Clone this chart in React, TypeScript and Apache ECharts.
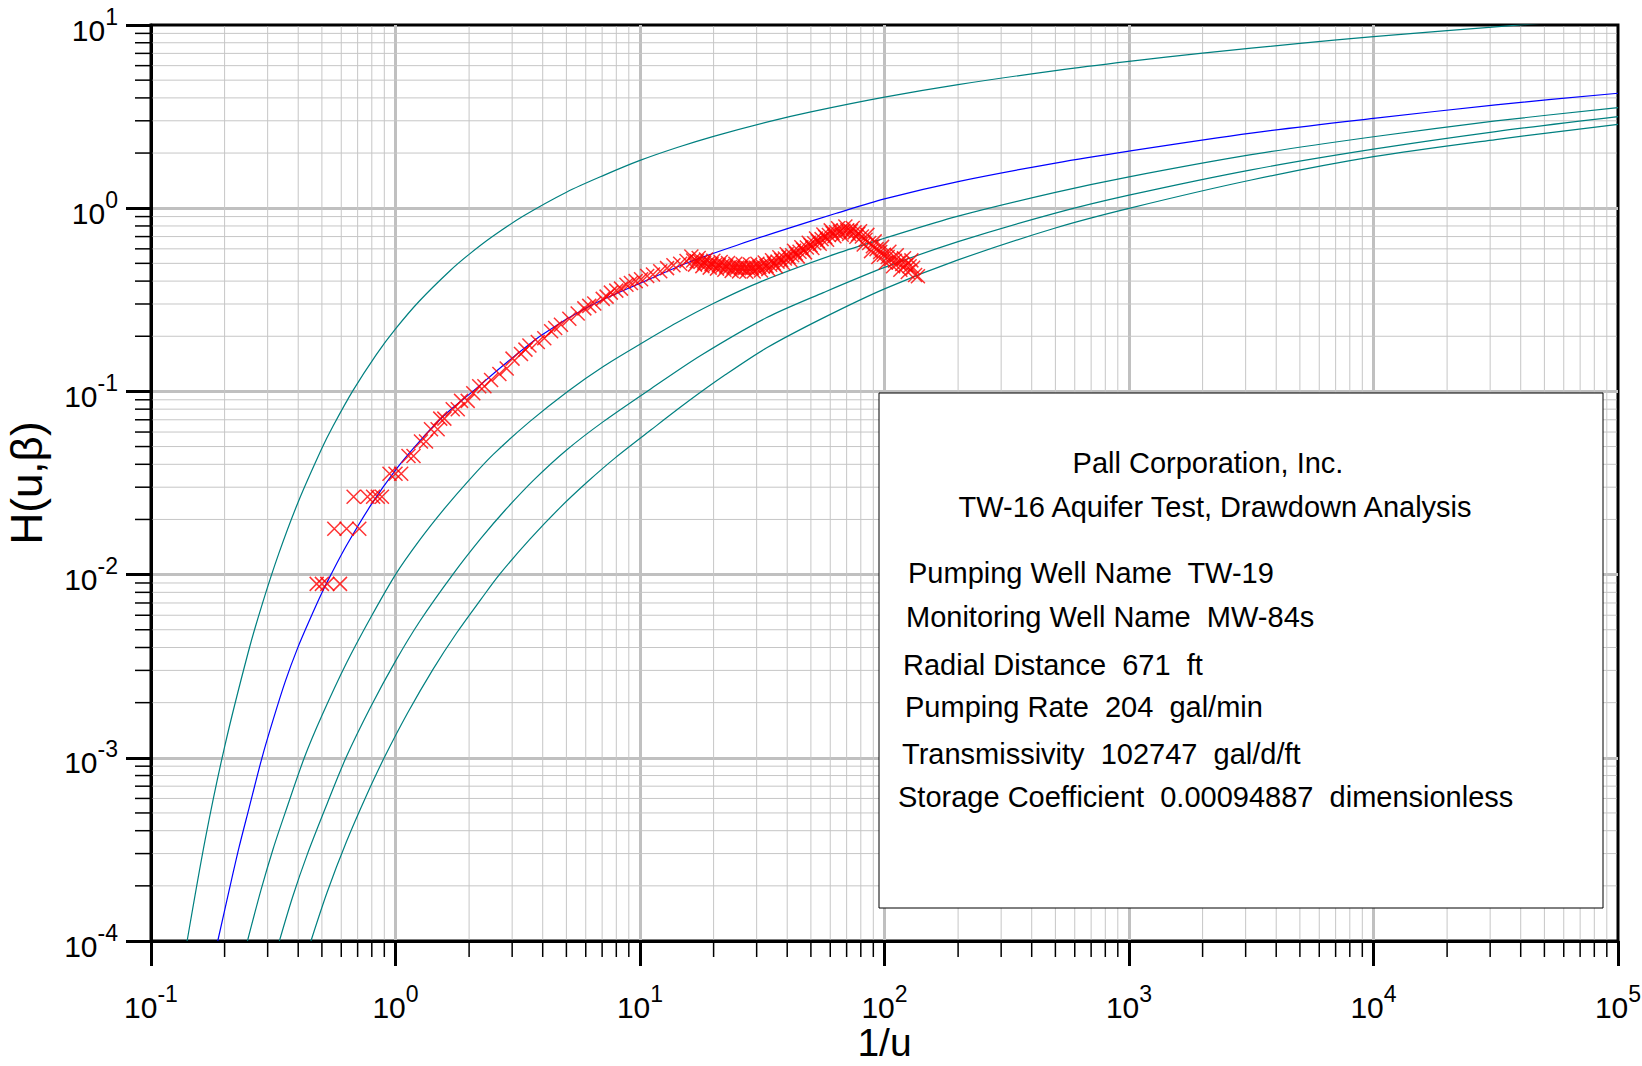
import React, { useEffect, useRef } from 'react';
import * as echarts from 'echarts';

const FONT = '"Liberation Sans", Arial, Helvetica, sans-serif';

// ---- Type curves H(u, beta) (x = 1/u) ----
const theisX = [0.1405, 0.1667, 0.2, 0.25, 0.2857, 0.3333, 0.4, 0.5, 0.5556, 0.6667, 0.8333, 1, 1.25, 1.667, 2, 2.5, 3.333, 5, 7.143, 10, 14.29, 20, 33.33, 50, 100, 200, 500, 1000, 2000, 5000, 10000, 20000, 50000];
const theisY = [1.0e-4, 3.6e-4, 1.148e-3, 3.779e-3, 6.97e-3, 1.305e-2, 2.491e-2, 4.89e-2, 0.0647, 0.1, 0.1584, 0.2194, 0.3106, 0.4544, 0.5598, 0.7024, 0.9057, 1.2227, 1.515, 1.8229, 2.1508, 2.4679, 2.9591, 3.3547, 4.0379, 4.7261, 5.6394, 6.3315, 7.0242, 7.9402, 8.6332, 9.3263, 10.2426];

const matchX = [0.1875, 0.2089, 0.2291, 0.2512, 0.2844, 0.3162, 0.3548, 0.3981, 0.4467, 0.5012, 0.5445, 0.631, 0.794, 1.0, 1.259, 1.585, 2.07, 2.818, 3.981, 6.31, 10, 15.85, 25.1, 39.8, 63.1, 100, 200, 500, 1000, 3162, 10000, 31620, 100000];
const matchY = [1.0e-4, 1.9e-4, 3.24e-4, 5.25e-4, 1.0e-3, 1.62e-3, 2.63e-3, 3.98e-3, 5.7e-3, 8.0e-3, 1.0e-2, 0.01445, 0.024, 0.0372, 0.0537, 0.0741, 0.1, 0.142, 0.204, 0.295, 0.389, 0.507, 0.63, 0.771, 0.935, 1.125, 1.398, 1.764, 2.05, 2.57, 3.09, 3.665, 4.24];

const curve5X = [0.248, 0.2818, 0.3162, 0.3548, 0.4236, 0.5012, 0.631, 0.794, 1.0, 1.259, 1.585, 2.0, 2.512, 3.548, 5.06, 7.08, 10, 14.13, 19.95, 31.6, 63.1, 100, 200, 500, 1000, 3162, 10000, 31620, 100000];
const curve5Y = [1.0e-4, 1.9e-4, 3.2e-4, 5.07e-4, 1.0e-3, 1.71e-3, 3.3e-3, 5.87e-3, 0.01, 0.0155, 0.0229, 0.0328, 0.0453, 0.0686, 0.1, 0.1368, 0.181, 0.237, 0.302, 0.400, 0.563, 0.685, 0.905, 1.22, 1.483, 1.96, 2.455, 2.995, 3.54];

const curve75X = [0.335, 0.380, 0.4365, 0.5248, 0.627, 0.794, 1.0, 1.259, 1.714, 2.239, 2.818, 3.70, 5.01, 7.08, 11.1, 17.78, 33, 56.2, 100, 200, 500, 1000, 3162, 10000, 31620, 100000];
const curve75Y = [1.0e-4, 1.75e-4, 2.99e-4, 5.6e-4, 1.0e-3, 1.91e-3, 3.37e-3, 5.58e-3, 0.01, 0.0158, 0.0226, 0.0331, 0.0479, 0.0684, 0.1035, 0.1575, 0.253, 0.346, 0.475, 0.657, 0.94, 1.178, 1.62, 2.10, 2.62, 3.16];

const curve10X = [0.451, 0.5248, 0.631, 0.759, 0.899, 1.122, 1.419, 1.778, 2.239, 2.66, 3.548, 4.677, 6.1, 7.94, 11.1, 15.85, 22.4, 33, 56.2, 100, 200, 500, 1000, 3162, 10000, 31620, 100000];
const curve10Y = [1.0e-4, 1.84e-4, 3.5e-4, 6.19e-4, 1.0e-3, 1.76e-3, 3.02e-3, 4.8e-3, 7.35e-3, 0.01, 0.0156, 0.023, 0.0321, 0.0435, 0.0617, 0.0888, 0.1235, 0.173, 0.252, 0.363, 0.522, 0.78, 0.998, 1.425, 1.91, 2.37, 2.87];

// ---- Observed drawdown data (1/u, H) ----
const obsX = [
  // early, distinct points
  0.476, 0.500, 0.526, 0.593, 0.562, 0.631, 0.711, 0.674, 0.768, 0.810, 0.846, 0.880,
  0.945, 1.000, 1.055, 1.130, 1.185, 1.271, 1.333, 1.397, 1.487, 1.524, 1.584, 1.714, 1.797,
  1.854, 1.974, 2.08, 2.20, 2.31, 2.46, 2.66, 2.85, 3.01, 3.26, 3.40, 3.53, 3.82, 4.06, 4.33,
  4.50, 4.75, 5.14, 5.56, 5.92, 6.20, 6.50, 7.04, 7.30, 7.60, 8.00, 8.36, 8.80, 9.18, 9.60,
  10.1, 10.7, 11.3, 12.1, 12.9, 13.7, 14.6, 15.5,
  // dense band
  16.22, 16.79, 17.38, 17.99, 18.62, 19.28, 19.95, 20.65, 21.38, 22.13, 22.91, 23.71, 24.55,
  25.41, 26.30, 27.23, 28.18, 29.17, 30.20, 31.26, 32.36, 33.50, 34.67, 35.89, 37.15, 38.46,
  39.81, 41.21, 42.66, 44.16, 45.71, 47.32, 48.98, 50.70, 52.48, 54.33, 56.23, 58.21, 60.26,
  62.37, 64.57, 66.83, 69.18, 71.61, 74.13, 76.74, 79.43, 82.22, 85.11, 88.10, 91.20, 94.41,
  97.72, 101.2, 104.7, 108.4, 112.2, 116.1, 120.2, 124.5, 128.8, 133.4, 137.0,
  16.50, 17.08, 17.68, 18.30, 18.94, 19.62, 20.30, 21.01, 21.75, 22.52, 23.31, 24.12, 24.98,
  25.85, 26.76, 27.70, 28.67, 29.68, 30.73, 31.80, 32.92, 34.08, 35.27, 36.52, 37.80, 39.13,
  40.50, 41.93, 43.40, 44.93, 46.51, 48.14, 49.83, 51.58, 53.39, 55.28, 57.21, 59.22, 61.31,
  63.46, 65.69, 67.99, 70.39, 72.86, 75.42, 78.08, 80.81, 83.65, 86.59, 89.63, 92.79, 96.05,
  99.42, 103.0, 106.5, 110.3, 114.2, 118.1, 122.3, 126.7, 131.0,
];
const obsY = [
  0.0089, 0.0089, 0.0089, 0.0089, 0.0178, 0.0178, 0.0178, 0.0266, 0.0266, 0.0266, 0.0266, 0.0266,
  0.0355, 0.0355, 0.0355, 0.0444, 0.0444, 0.0533, 0.0533, 0.0622, 0.0622, 0.0710, 0.0710, 0.0799, 0.0799,
  0.0888, 0.0888, 0.0977, 0.1066, 0.1066, 0.1154, 0.1243, 0.1332, 0.151, 0.160, 0.169, 0.178, 0.186, 0.195, 0.213,
  0.222, 0.231, 0.249, 0.266, 0.284, 0.293, 0.302, 0.320, 0.329, 0.346, 0.355, 0.364, 0.382, 0.391, 0.400,
  0.409, 0.426, 0.435, 0.453, 0.471, 0.488, 0.497, 0.515,
  0.545, 0.492, 0.535, 0.483, 0.525, 0.474, 0.516, 0.468, 0.509, 0.461, 0.502, 0.455, 0.497,
  0.452, 0.494, 0.450, 0.492, 0.451, 0.498, 0.457, 0.505, 0.465, 0.520, 0.483, 0.540, 0.502,
  0.561, 0.522, 0.586, 0.546, 0.612, 0.574, 0.647, 0.607, 0.684, 0.640, 0.719, 0.673, 0.757,
  0.703, 0.778, 0.716, 0.794, 0.723, 0.780, 0.698, 0.748, 0.634, 0.715, 0.583, 0.659, 0.542,
  0.615, 0.505, 0.579, 0.482, 0.553, 0.461, 0.533, 0.448, 0.519, 0.432, 0.425,
  0.518, 0.513, 0.508, 0.504, 0.499, 0.495, 0.491, 0.488, 0.485, 0.481, 0.478, 0.475, 0.474,
  0.473, 0.471, 0.470, 0.471, 0.474, 0.477, 0.480, 0.484, 0.491, 0.501, 0.511, 0.521, 0.531,
  0.542, 0.553, 0.566, 0.578, 0.593, 0.610, 0.627, 0.644, 0.661, 0.678, 0.696, 0.714, 0.730,
  0.740, 0.746, 0.754, 0.758, 0.751, 0.738, 0.723, 0.701, 0.673, 0.646, 0.620, 0.598, 0.577,
  0.557, 0.541, 0.528, 0.516, 0.505, 0.496, 0.489, 0.482, 0.473,
];

// ---- Axes ----
const X_MIN = 0.1;
const X_MAX = 100000;
const Y_MIN = 0.0001;
const Y_MAX = 10;
const xDecades = [0.1, 1, 10, 100, 1000, 10000];
const yDecades = [0.0001, 0.001, 0.01, 0.1, 1];
const minorSteps = [2, 3, 4, 5, 6, 7, 8, 9];

// ---- Info box text ----
const titleLines = ['Pall Corporation, Inc.', 'TW-16 Aquifer Test, Drawdown Analysis'];
const infoLines = [
  'Pumping Well Name  TW-19',
  'Monitoring Well Name  MW-84s',
  'Radial Distance  671  ft',
  'Pumping Rate  204  gal/min',
  'Transmissivity  102747  gal/d/ft',
  'Storage Coefficient  0.00094887  dimensionless',
];
// layout of the info box (pixels)
const BOX = { x: 879, y: 393, w: 724, h: 515 };
const titlePos = [
  { x: 1208, y: 463 },
  { x: 1215, y: 507 },
];
const infoPos = [
  { x: 908, y: 573 },
  { x: 906, y: 617 },
  { x: 903, y: 665 },
  { x: 905, y: 707 },
  { x: 902, y: 754 },
  { x: 898, y: 797 },
];

const zip = (xs: number[], ys: number[]) => xs.map((x, i) => [x, ys[i]]);

const expLabel = (v: number) => {
  const e = Math.round(Math.log10(v));
  return `{b|10}{s|${e}}`;
};

const labelRich = {
  b: { fontSize: 30, fontFamily: FONT, color: '#000', lineHeight: 40, verticalAlign: 'bottom' },
  s: { fontSize: 23, fontFamily: FONT, color: '#000', lineHeight: 23, verticalAlign: 'top' },
};

export default function App() {
  const ref = useRef<HTMLDivElement>(null);

  useEffect(() => {
    if (!ref.current) return;
    const chart = echarts.init(ref.current, null, { renderer: 'svg' });

    const xMinor: number[][] = [];
    xDecades.forEach((d) => minorSteps.forEach((m) => xMinor.push([d * m, 1])));
    const yMinor: number[][] = [];
    yDecades.forEach((d) => minorSteps.forEach((m) => yMinor.push([1, d * m])));

    const curveLine = (name: string, data: number[][], color: string) => ({
      name,
      type: 'line',
      data,
      showSymbol: false,
      symbol: 'none',
      smooth: 0.3,
      clip: true,
      z: 3,
      lineStyle: { color, width: 1.2 },
      silent: true,
    });

    const option: any = {
      animation: false,
      backgroundColor: '#ffffff',
      grid: {
        left: 151,
        top: 25,
        width: 1467,
        height: 916,
        outerBoundsMode: 'none',
        containLabel: false,
        show: true,
        borderColor: '#000',
        borderWidth: 3,
        backgroundColor: 'transparent',
      },
      xAxis: {
        type: 'log',
        logBase: 10,
        min: X_MIN,
        max: X_MAX,
        splitNumber: 6,
        name: '1/u',
        nameLocation: 'middle',
        nameGap: 83,
        nameMoveOverlap: false,
        nameTextStyle: { fontSize: 39, fontFamily: FONT, color: '#000', lineHeight: 36 },
        axisLine: { show: true, onZero: false, lineStyle: { color: '#000', width: 3 } },
        axisTick: { show: true, length: 25, lineStyle: { color: '#000', width: 3 } },
        axisLabel: { formatter: expLabel, margin: 41, rich: labelRich, showMinLabel: true, showMaxLabel: true },
        splitLine: { show: true, showMinLine: false, showMaxLine: false, lineStyle: { color: '#c0c0c0', width: 3 } },
      },
      yAxis: {
        type: 'log',
        logBase: 10,
        min: Y_MIN,
        max: Y_MAX,
        splitNumber: 5,
        name: 'H(u,β)',
        nameLocation: 'middle',
        nameRotate: 90,
        nameGap: 103,
        nameMoveOverlap: false,
        nameTextStyle: { fontSize: 44, fontFamily: FONT, color: '#000' },
        axisLine: { show: true, onZero: false, lineStyle: { color: '#000', width: 3 } },
        axisTick: { show: true, length: 25, lineStyle: { color: '#000', width: 3 } },
        axisLabel: { formatter: expLabel, margin: 33, rich: labelRich, showMinLabel: true, showMaxLabel: true },
        splitLine: { show: true, showMinLine: false, showMaxLine: false, lineStyle: { color: '#c0c0c0', width: 3 } },
      },
      series: [
        {
          type: 'custom',
          name: 'xMinor',
          coordinateSystem: 'cartesian2d',
          data: xMinor,
          encode: { x: 0, y: 1 },
          clip: false,
          silent: true,
          z: 1,
          renderItem: (_p: any, api: any) => {
            const v = api.value(0);
            const top = api.coord([v, Y_MAX]);
            const bot = api.coord([v, Y_MIN]);
            const x = bot[0];
            return {
              type: 'group',
              children: [
                { type: 'line', shape: { x1: x, y1: top[1] + 1.5, x2: x, y2: bot[1] - 1.5 }, style: { stroke: '#c6c6c6', lineWidth: 1 } },
                { type: 'line', shape: { x1: x, y1: bot[1], x2: x, y2: bot[1] + 16 }, style: { stroke: '#000', lineWidth: 1.5 } },
              ],
            };
          },
        },
        {
          type: 'custom',
          name: 'yMinor',
          coordinateSystem: 'cartesian2d',
          data: yMinor,
          encode: { x: 0, y: 1 },
          clip: false,
          silent: true,
          z: 1,
          renderItem: (_p: any, api: any) => {
            const v = api.value(1);
            const left = api.coord([X_MIN, v]);
            const right = api.coord([X_MAX, v]);
            const y = left[1];
            return {
              type: 'group',
              children: [
                { type: 'line', shape: { x1: left[0] + 1.5, y1: y, x2: right[0] - 1.5, y2: y }, style: { stroke: '#c6c6c6', lineWidth: 1 } },
                { type: 'line', shape: { x1: left[0] - 16, y1: y, x2: left[0], y2: y }, style: { stroke: '#000', lineWidth: 1.5 } },
              ],
            };
          },
        },
        curveLine('beta 0', zip(theisX, theisY), '#008080'),
        curveLine('beta 5', zip(curve5X, curve5Y), '#008080'),
        curveLine('beta 7.5', zip(curve75X, curve75Y), '#008080'),
        curveLine('beta 10', zip(curve10X, curve10Y), '#008080'),
        curveLine('beta 2.5', zip(matchX, matchY), '#0000ff'),
        {
          name: 'Observed',
          type: 'scatter',
          data: zip(obsX, obsY),
          symbol: 'path://M0 0L10 10M10 0L0 10',
          symbolSize: 14,
          z: 4,
          silent: true,
          itemStyle: { color: 'rgba(0,0,0,0)', borderColor: '#ff0000', borderWidth: 1.5 },
        },
      ],
      graphic: [
        {
          type: 'rect',
          z: 100,
          shape: { x: BOX.x, y: BOX.y, width: BOX.w, height: BOX.h },
          style: { fill: '#ffffff', stroke: '#000000', lineWidth: 1 },
        },
        ...titleLines.map((t, i) => ({
          type: 'text',
          z: 101,
          x: titlePos[i].x,
          y: titlePos[i].y,
          style: {
            text: t,
            fontSize: 29,
            fontFamily: FONT,
            fill: '#000',
            align: 'center',
            verticalAlign: 'middle',
            textAlign: 'center',
            textVerticalAlign: 'middle',
          },
        })),
        ...infoLines.map((t, i) => ({
          type: 'text',
          z: 101,
          x: infoPos[i].x,
          y: infoPos[i].y,
          style: {
            text: t,
            fontSize: 29,
            fontFamily: FONT,
            fill: '#000',
            align: 'left',
            verticalAlign: 'middle',
            textAlign: 'left',
            textVerticalAlign: 'middle',
          },
        })),
      ],
    };

    chart.setOption(option);
    return () => chart.dispose();
  }, []);

  return (
    <div
      ref={ref}
      style={{ position: 'fixed', left: 0, top: 0, width: '1642px', height: '1066px', background: '#fff' }}
    />
  );
}
